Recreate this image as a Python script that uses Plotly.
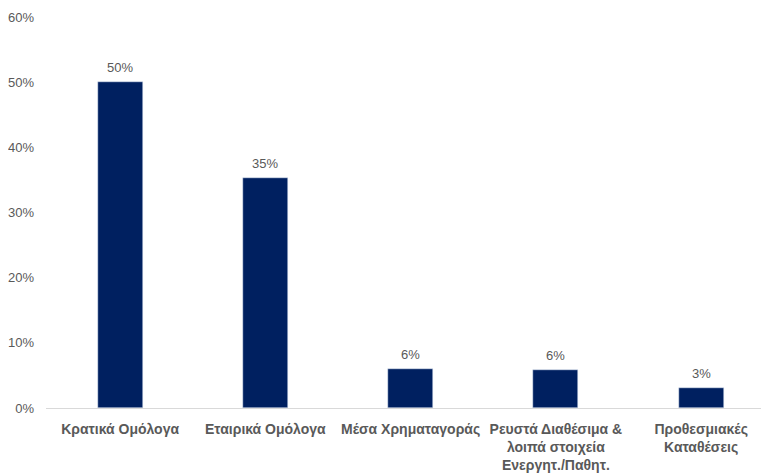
import plotly.graph_objects as go

categories = [
    "Κρατικά Ομόλογα",
    "Εταιρικά Ομόλογα",
    "Μέσα Χρηματαγοράς",
    "Ρευστά Διαθέσιμα &<br>λοιπά στοιχεία<br>Ενεργητ./Παθητ.",
    "Προθεσμιακές<br>Καταθέσεις",
]
values = [0.500, 0.353, 0.060, 0.059, 0.031]
labels = ["50%", "35%", "6%", "6%", "3%"]
y_ticks = [0, 0.1, 0.2, 0.3, 0.4, 0.5, 0.6]
y_tick_text = ["0%", "10%", "20%", "30%", "40%", "50%", "60%"]

x_pos = list(range(len(categories)))

fig = go.Figure(
    go.Bar(
        x=x_pos,
        y=values,
        marker=dict(color="#002060"),
        width=0.31,
    )
)

for xi, v, t in zip(x_pos, values, labels):
    fig.add_annotation(
        x=xi, y=v, text=t, showarrow=False,
        yanchor="bottom", yshift=5,
        font=dict(color="#595959", size=13, family="Liberation Sans"),
    )

fig.update_layout(
    width=761,
    height=467,
    margin=dict(l=38, r=0, t=9, b=67),
    paper_bgcolor="white",
    plot_bgcolor="white",
    showlegend=False,
    font=dict(family="Liberation Sans", color="#595959"),
    xaxis=dict(
        range=[-0.51, 4.467],
        tickmode="array",
        tickvals=x_pos,
        ticktext=[f"<b>{c}</b>" for c in categories],
        tickfont=dict(size=14, color="#595959"),
        showgrid=False,
        showline=True,
        linecolor="#D9D9D9",
        linewidth=1,
        ticks="",
        ticklabelstandoff=8,
        zeroline=False,
        automargin=False,
    ),
    yaxis=dict(
        range=[0, 0.6],
        tickmode="array",
        tickvals=y_ticks,
        ticktext=y_tick_text,
        tickfont=dict(size=13, color="#595959"),
        showgrid=False,
        showline=False,
        zeroline=False,
        ticks="",
        ticklabelstandoff=11,
        automargin=False,
    ),
    bargap=0,
)

fig.write_html("out.html")
